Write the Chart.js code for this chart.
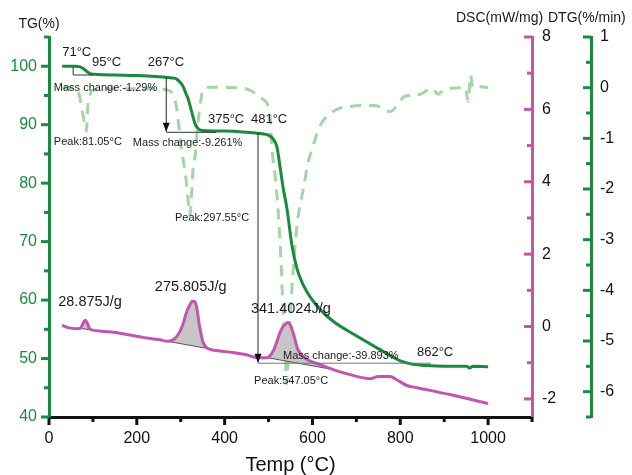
<!DOCTYPE html>
<html>
<head>
<meta charset="utf-8">
<script src="https://cdn.jsdelivr.net/npm/chart.js@4"></script>
<style>
  body { margin: 0; background: #fff; }
</style>
</head>
<body>
<canvas id="myChart" width="632" height="475"></canvas>
<script>
// TG curve (%)
var tempTG = [30, 60, 71, 80, 88, 95, 110, 150, 200, 250, 267, 280, 291, 298, 305, 312, 317, 325, 333, 340, 351,
  400, 450, 480, 500, 510, 519, 526, 533, 542, 553, 565, 579, 595, 620, 650, 700, 750, 800, 830, 860,
  900, 950, 958, 965, 1000];
var tgValues = [100, 100, 99.9, 99.5, 99.0, 98.7, 98.6, 98.5, 98.4, 98.2, 98.1, 98.0, 97.8, 97.3, 96.6, 95.3, 94.4, 92.2, 90.1, 89.3, 89.0,
  88.9, 88.7, 88.5, 88.2, 87.6, 86.2, 82.9, 79.3, 75.6, 69.5, 65.3, 62.6, 60.5, 58.2, 56.2, 53.9, 51.7, 49.6, 49.0, 48.8,
  48.7, 48.7, 48.4, 48.7, 48.6];

// DSC curve (mW/mg)
var tempDSC = [30, 43, 64, 71, 76, 80, 83, 87, 92, 100, 120, 155, 214, 250, 271, 285, 298, 306, 313, 320,
  327, 332, 336, 343, 351, 362, 380, 419, 450, 474, 497, 510, 518, 526, 533, 538, 544, 550, 556, 567,
  588, 617, 647, 686, 731, 750, 777, 792, 815, 838, 913, 1000];
var dscValues = [0.03, -0.03, -0.06, -0.05, 0.05, 0.14, 0.17, 0.1, -0.05, -0.1, -0.13, -0.17, -0.3, -0.36, -0.41, -0.35, -0.14, 0.1, 0.39, 0.58,
  0.70, 0.69, 0.55, 0, -0.44, -0.61, -0.66, -0.72, -0.78, -0.86, -0.86, -0.69, -0.45, -0.17, 0.0, 0.06, 0.11, 0.03, -0.17, -0.64,
  -0.91, -1.05, -1.19, -1.33, -1.44, -1.38, -1.38, -1.47, -1.63, -1.69, -1.88, -2.13];

// DTG curve (%/min)
var tempDTG = [30, 60, 66, 71, 75, 78, 82, 85, 89, 93, 100, 150, 200, 250, 270, 280, 290, 301, 312, 319,
  321, 324, 328, 333, 339, 346, 351, 367, 420, 451, 487, 503, 508, 517, 524, 528, 533, 538, 541, 543,
  547, 553, 558, 565, 579, 590, 599, 617, 647, 686, 742, 777, 811, 845, 872, 886, 900, 920, 948, 955,
  960, 965, 982, 1000];
var dtgValues = [0, 0, -0.05, -0.23, -0.43, -0.57, -0.76, -0.86, -0.29, -0.15, -0.05, -0.02, -0.02, -0.02, -0.05, -0.1, -0.37, -1.16, -1.81, -2.4,
  -2.52, -2.2, -1.61, -1.32, -0.72, -0.23, -0.03, 0.01, 0, -0.03, -0.23, -0.52, -1.22, -1.91, -2.7, -3.34, -4.39, -5.18, -5.85, -5.6,
  -4.97, -3.99, -3.4, -2.7, -2.01, -1.48, -1.22, -0.76, -0.47, -0.37, -0.35, -0.47, -0.17, -0.13, -0.01, -0.13, -0.03, -0.01, 0, -0.27,
  0.25, 0, 0.02, 0];

// tick labels
var xTicks = [0, 200, 400, 600, 800, 1000];
var tgTicks = [40, 50, 60, 70, 80, 90, 100];
var dscTicks = [-2, 0, 2, 4, 6, 8];
var dtgTicks = [-6, -5, -4, -3, -2, -1, 0, 1];

// DSC peaks (integration range) and their enthalpy labels
var peakStart = [71, 271, 497];
var peakEnd = [100, 362, 647];
var peakText = ['28.875J/g', '275.805J/g', '341.4024J/g'];
var peakTextT = [21, 241, 460];
var peakTextTG = [59.6, 62.2, 58.4];

// temperature labels
var noteText = ['71°C', '95°C', '267°C', '375°C', '481°C', '862°C'];
var noteT = [30, 98, 225, 362, 460, 838];
var noteTG = [102.4, 100.6, 100.6, 90.9, 90.9, 51.0];

// small labels
var smallText = ['Mass change:-1.29%', 'Peak:81.05°C', 'Mass change:-9.261%', 'Peak:297.55°C', 'Peak:547.05°C', 'Mass change:-39.893%'];
var smallT = [11, 11, 191, 287, 467, 533];
var smallTG = [96.3, 87.1, 86.8, 74.1, 46.2, 50.4];

// mass change steps
var stepT = [267, 476];
var stepTop = [98.1, 88.6];
var stepBottom = [88.8, 49.3];
var stepEndT = [381, 870];
var stepLevel = [88.7, 49.2];

var green = '#1b8a3d';
var magenta = '#c256ad';
var font = "'Liberation Sans', Arial, sans-serif";

function pts(xs, ys) {
  return xs.map(function (x, i) { return { x: x, y: ys[i] }; });
}

function peakShape(a, b) {
  var p = [];
  for (var i = 0; i < tempDSC.length; i++) {
    if (tempDSC[i] >= a && tempDSC[i] <= b) p.push({ x: tempDSC[i], y: dscValues[i] });
  }
  p.push(p[0]);
  return p;
}

var datasets = [
  { label: 'TG', data: pts(tempTG, tgValues), yAxisID: 'y', borderColor: green, borderWidth: 3,
    pointRadius: 0, cubicInterpolationMode: 'monotone', order: 1 },
  { label: 'DSC', data: pts(tempDSC, dscValues), yAxisID: 'y1', borderColor: magenta, borderWidth: 3,
    pointRadius: 0, cubicInterpolationMode: 'monotone', order: 2 },
  { label: 'DTG', data: pts(tempDTG, dtgValues), yAxisID: 'y2', borderColor: '#a3d6a5', borderWidth: 3,
    borderDash: [11, 8], pointRadius: 0, cubicInterpolationMode: 'monotone', order: 5 }
];
for (var k = 0; k < peakStart.length; k++) {
  datasets.push({ label: 'peak' + k, data: peakShape(peakStart[k], peakEnd[k]), yAxisID: 'y1',
    borderColor: '#555', borderWidth: 1, backgroundColor: '#c6c6c6', fill: 'shape',
    pointRadius: 0, tension: 0, order: 3 });
}

var axisMarks = [
  { id: 'x', major: xTicks, minor: [100, 300, 500, 700, 900, 1100], color: '#111' },
  { id: 'y', major: tgTicks, minor: [45, 55, 65, 75, 85, 95, 105], color: green },
  { id: 'y1', major: dscTicks, minor: [-1, 1, 3, 5, 7], color: magenta },
  { id: 'y2', major: dtgTicks, minor: [-6.5, -5.5, -4.5, -3.5, -2.5, -1.5, -0.5, 0.5], color: green }
];

function drawMarks(ctx, chart, m) {
  var s = chart.scales[m.id];
  ctx.save();
  ctx.strokeStyle = m.color;
  ctx.lineWidth = 3;
  [[m.major, 8], [m.minor, 5]].forEach(function (set) {
    set[0].forEach(function (v) {
      var p = s.getPixelForValue(v);
      ctx.beginPath();
      if (m.id === 'x') { ctx.moveTo(p, s.top); ctx.lineTo(p, s.top + set[1]); }
      else if (m.id === 'y') { ctx.moveTo(s.right, p); ctx.lineTo(s.right - set[1], p); }
      else { ctx.moveTo(s.left, p); ctx.lineTo(s.left - set[1], p); }
      ctx.stroke();
    });
  });
  ctx.restore();
}

function line(ctx, x1, y1, x2, y2) {
  ctx.beginPath(); ctx.moveTo(x1, y1); ctx.lineTo(x2, y2); ctx.stroke();
}

var annotate = {
  id: 'annotate',
  beforeDraw: function (chart) {
    var ctx = chart.ctx;
    ctx.save(); ctx.fillStyle = '#fff'; ctx.fillRect(0, 0, chart.width, chart.height); ctx.restore();
  },
  afterDatasetsDraw: function (chart) {
    var ctx = chart.ctx, sx = chart.scales.x, sy = chart.scales.y;
    ctx.save();
    // small tangent marks at the first step
    ctx.strokeStyle = '#333'; ctx.lineWidth = 1;
    line(ctx, sx.getPixelForValue(55), sy.getPixelForValue(99.9), sx.getPixelForValue(55), sy.getPixelForValue(98.5));
    line(ctx, sx.getPixelForValue(55), sy.getPixelForValue(98.5), sx.getPixelForValue(100), sy.getPixelForValue(98.5));
    // mass change arrows
    for (var i = 0; i < stepT.length; i++) {
      var x = sx.getPixelForValue(stepT[i]);
      var top = sy.getPixelForValue(stepTop[i]);
      var bot = sy.getPixelForValue(stepBottom[i]);
      var lvl = sy.getPixelForValue(stepLevel[i]);
      ctx.strokeStyle = '#222';
      line(ctx, x, top, x, bot);
      ctx.fillStyle = '#111';
      ctx.beginPath(); ctx.moveTo(x - 3.5, bot - 9); ctx.lineTo(x + 3.5, bot - 9); ctx.lineTo(x, bot); ctx.closePath(); ctx.fill();
      ctx.strokeStyle = i === 0 ? '#333' : '#777';
      line(ctx, x, lvl, sx.getPixelForValue(stepEndT[i]), lvl);
    }
    // labels
    ctx.fillStyle = '#1a1a1a';
    ctx.textBaseline = 'middle';
    ctx.textAlign = 'left';
    ctx.font = '13px ' + font;
    noteText.forEach(function (t, j) {
      ctx.fillText(t, sx.getPixelForValue(noteT[j]), sy.getPixelForValue(noteTG[j]));
    });
    ctx.font = '11px ' + font;
    smallText.forEach(function (t, j) {
      ctx.fillText(t, sx.getPixelForValue(smallT[j]), sy.getPixelForValue(smallTG[j]));
    });
    ctx.font = '14.5px ' + font;
    peakText.forEach(function (t, j) {
      ctx.fillText(t, sx.getPixelForValue(peakTextT[j]), sy.getPixelForValue(peakTextTG[j]));
    });
    ctx.restore();
  },
  afterDraw: function (chart) {
    var ctx = chart.ctx;
    axisMarks.forEach(function (m) { drawMarks(ctx, chart, m); });
    ctx.save();
    ctx.fillStyle = '#1a1a1a';
    ctx.font = '14px ' + font;
    ctx.textBaseline = 'middle';
    ctx.textAlign = 'center';
    ctx.fillText('TG(%)', chart.scales.y.right - 10, 24);
    ctx.textAlign = 'left';
    ctx.fillText('DSC(mW/mg)', chart.scales.y1.left - 76, 18);
    ctx.fillText('DTG(%/min)', chart.scales.y2.left - 43, 18);
    ctx.restore();
  }
};

function fixed(list) {
  return function (scale) { scale.ticks = list.map(function (v) { return { value: v }; }); };
}

function plain(v) { return String(v); }

var noGrid = { display: true, drawOnChartArea: false, drawTicks: false };

var config = {
  type: 'line',
  data: { datasets: datasets },
  options: {
    responsive: false,
    animation: false,
    devicePixelRatio: 1,
    layout: { padding: { top: 37, left: 0, right: 0, bottom: 0 } },
    plugins: { legend: { display: false }, tooltip: { enabled: false }, title: { display: false } },
    scales: {
      x: {
        type: 'linear', position: 'bottom', min: 0, max: 1100,
        afterBuildTicks: fixed(xTicks),
        afterFit: function (s) { s.height = 58; },
        grid: noGrid,
        border: { display: true, color: '#111', width: 3 },
        ticks: { color: '#111', padding: 12, callback: plain, font: { family: font, size: 16 } },
        title: { display: true, text: 'Temp (°C)', color: '#111', padding: { top: 0, bottom: 0 },
          font: { family: font, size: 20, lineHeight: 1 } }
      },
      y: {
        type: 'linear', position: 'left', min: 40, max: 105,
        afterBuildTicks: fixed(tgTicks),
        afterFit: function (s) { s.width = 49; },
        grid: noGrid,
        border: { display: true, color: green, width: 3 },
        ticks: { color: green, padding: 12, callback: plain, font: { family: font, size: 16 } }
      },
      y1: {
        type: 'linear', position: 'right', weight: 1, min: -2.5, max: 8,
        afterBuildTicks: fixed(dscTicks),
        afterFit: function (s) { s.width = 59; },
        grid: noGrid,
        border: { display: true, color: magenta, width: 3 },
        ticks: { color: '#111', padding: 10, callback: plain, font: { family: font, size: 16 } }
      },
      y2: {
        type: 'linear', position: 'right', weight: 2, min: -6.5, max: 1,
        afterBuildTicks: fixed(dtgTicks),
        afterFit: function (s) { s.width = 41; },
        grid: noGrid,
        border: { display: true, color: green, width: 3 },
        ticks: { color: '#111', padding: 9, callback: plain, font: { family: font, size: 16 } }
      }
    }
  },
  plugins: [annotate]
};

var myChart = new Chart(document.getElementById('myChart'), config);
</script>
</body>
</html>
